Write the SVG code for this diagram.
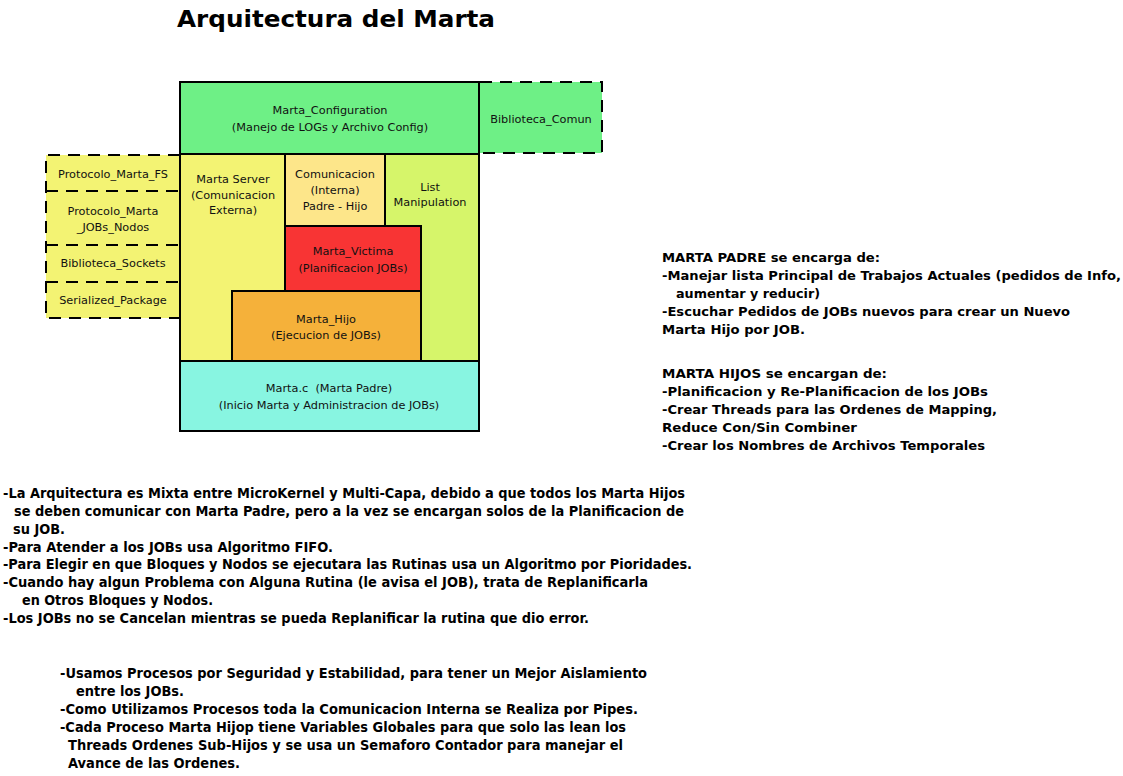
<svg xmlns="http://www.w3.org/2000/svg" width="1123" height="776" viewBox="0 0 1123 776">
<style>
.box{stroke:#000;stroke-width:2}
.dash{fill:none;stroke:#000;stroke-width:2;stroke-dasharray:12 8}
.bt{font-family:"DejaVu Sans",sans-serif;font-size:11.3px;fill:#111;text-anchor:middle}
.title{font-family:"DejaVu Sans",sans-serif;font-weight:bold;font-size:23px;fill:#000}
.nt{font-family:"DejaVu Sans",sans-serif;font-weight:bold;font-size:13px;fill:#000}
.lt{font-family:"DejaVu Sans",sans-serif;font-weight:bold;font-size:13.5px;fill:#000}
</style>
<rect width="1123" height="776" fill="#fff"/>
<text class="title" x="177" y="27" textLength="318" lengthAdjust="spacingAndGlyphs">Arquitectura del Marta</text>

<g id="left-libs">
<rect x="46" y="155" width="134" height="163" fill="#f3f373"/>
<path class="dash" d="M180 155 H46 V318 H180 M46 191 H180 M46 245 H180 M46 282 H180"/>
<text class="bt" x="113" y="178">Protocolo_Marta_FS</text>
<text class="bt" x="113" y="215">Protocolo_Marta</text>
<text class="bt" x="113" y="231">_JOBs_Nodos</text>
<text class="bt" x="113" y="267">Biblioteca_Sockets</text>
<text class="bt" x="113" y="304">Serialized_Package</text>
</g>

<g id="biblioteca-comun">
<rect x="480" y="82" width="122" height="71" fill="#6ef086"/>
<path class="dash" d="M480 82 H602 V153 H480"/>
<text class="bt" x="541" y="123">Biblioteca_Comun</text>
</g>

<g id="marta-configuration">
<rect class="box" x="180" y="82" width="299" height="72" fill="#6ef086"/>
<text class="bt" x="330" y="114">Marta_Configuration</text>
<text class="bt" x="330" y="131">(Manejo de LOGs y Archivo Config)</text>
</g>

<g id="marta-server">
<rect class="box" x="180" y="154" width="105" height="207" fill="#f3f373"/>
<text class="bt" x="233" y="183">Marta Server</text>
<text class="bt" x="233" y="199">(Comunicacion</text>
<text class="bt" x="233" y="214">Externa)</text>
</g>

<g id="list-manipulation">
<rect class="box" x="385" y="154" width="94" height="207" fill="#d6f56a"/>
<text class="bt" x="430" y="191">List</text>
<text class="bt" x="430" y="206">Manipulation</text>
</g>

<g id="comunicacion-interna">
<rect class="box" x="285" y="154" width="100" height="72" fill="#fde68a"/>
<text class="bt" x="335" y="178">Comunicacion</text>
<text class="bt" x="335" y="194">(Interna)</text>
<text class="bt" x="335" y="210">Padre - Hijo</text>
</g>

<g id="marta-victima">
<rect class="box" x="285" y="226" width="136" height="65" fill="#f83434"/>
<text class="bt" x="353" y="255">Marta_Victima</text>
<text class="bt" x="353" y="272">(Planificacion JOBs)</text>
</g>

<g id="marta-hijo">
<rect class="box" x="232" y="291" width="189" height="70" fill="#f5b13a"/>
<text class="bt" x="326" y="323">Marta_Hijo</text>
<text class="bt" x="326" y="339">(Ejecucion de JOBs)</text>
</g>

<g id="marta-c">
<rect class="box" x="180" y="361" width="299" height="70" fill="#88f5e1"/>
<text class="bt" x="329" y="392" xml:space="preserve">Marta.c  (Marta Padre)</text>
<text class="bt" x="329" y="409">(Inicio Marta y Administracion de JOBs)</text>
</g>

<g id="connectors"></g>

<g id="notes-right">
<text class="nt" x="662" y="262" textLength="218" lengthAdjust="spacingAndGlyphs">MARTA PADRE se encarga de:</text>
<text class="nt" x="662" y="280" textLength="459" lengthAdjust="spacingAndGlyphs">-Manejar lista Principal de Trabajos Actuales (pedidos de Info,</text>
<text class="nt" x="676" y="298" textLength="144" lengthAdjust="spacingAndGlyphs">aumentar y reducir)</text>
<text class="nt" x="662" y="316" textLength="408" lengthAdjust="spacingAndGlyphs">-Escuchar Pedidos de JOBs nuevos para crear un Nuevo</text>
<text class="nt" x="662" y="334" textLength="143" lengthAdjust="spacingAndGlyphs">Marta Hijo por JOB.</text>
<text class="nt" x="662" y="378" textLength="225" lengthAdjust="spacingAndGlyphs">MARTA HIJOS se encargan de:</text>
<text class="nt" x="662" y="396" textLength="326" lengthAdjust="spacingAndGlyphs">-Planificacion y Re-Planificacion de los JOBs</text>
<text class="nt" x="662" y="414" textLength="335" lengthAdjust="spacingAndGlyphs">-Crear Threads para las Ordenes de Mapping,</text>
<text class="nt" x="662" y="432" textLength="195" lengthAdjust="spacingAndGlyphs">Reduce Con/Sin Combiner</text>
<text class="nt" x="662" y="450" textLength="323" lengthAdjust="spacingAndGlyphs">-Crear los Nombres de Archivos Temporales</text>
</g>

<g id="notes-left">
<text class="lt" x="3" y="498" textLength="682" lengthAdjust="spacingAndGlyphs">-La Arquitectura es Mixta entre MicroKernel y Multi-Capa, debido a que todos los Marta Hijos</text>
<text class="lt" x="14" y="516" textLength="670" lengthAdjust="spacingAndGlyphs">se deben comunicar con Marta Padre, pero a la vez se encargan solos de la Planificacion de</text>
<text class="lt" x="13" y="534" textLength="52" lengthAdjust="spacingAndGlyphs">su JOB.</text>
<text class="lt" x="3" y="552" textLength="330" lengthAdjust="spacingAndGlyphs">-Para Atender a los JOBs usa Algoritmo FIFO.</text>
<text class="lt" x="3" y="569" textLength="689" lengthAdjust="spacingAndGlyphs">-Para Elegir en que Bloques y Nodos se ejecutara las Rutinas usa un Algoritmo por Pioridades.</text>
<text class="lt" x="3" y="587" textLength="645" lengthAdjust="spacingAndGlyphs">-Cuando hay algun Problema con Alguna Rutina (le avisa el JOB), trata de Replanificarla</text>
<text class="lt" x="22" y="605" textLength="191" lengthAdjust="spacingAndGlyphs">en Otros Bloques y Nodos.</text>
<text class="lt" x="3" y="623" textLength="586" lengthAdjust="spacingAndGlyphs">-Los JOBs no se Cancelan mientras se pueda Replanificar la rutina que dio error.</text>
</g>

<g id="notes-bottom">
<text class="lt" x="60" y="678" textLength="587" lengthAdjust="spacingAndGlyphs">-Usamos Procesos por Seguridad y Estabilidad, para tener un Mejor Aislamiento</text>
<text class="lt" x="76" y="696" textLength="108" lengthAdjust="spacingAndGlyphs">entre los JOBs.</text>
<text class="lt" x="60" y="714" textLength="578" lengthAdjust="spacingAndGlyphs">-Como Utilizamos Procesos toda la Comunicacion Interna se Realiza por Pipes.</text>
<text class="lt" x="60" y="732" textLength="566" lengthAdjust="spacingAndGlyphs">-Cada Proceso Marta Hijop tiene Variables Globales para que solo las lean los</text>
<text class="lt" x="68" y="750" textLength="555" lengthAdjust="spacingAndGlyphs">Threads Ordenes Sub-Hijos y se usa un Semaforo Contador para manejar el</text>
<text class="lt" x="68" y="768" textLength="172" lengthAdjust="spacingAndGlyphs">Avance de las Ordenes.</text>
</g>
</svg>
